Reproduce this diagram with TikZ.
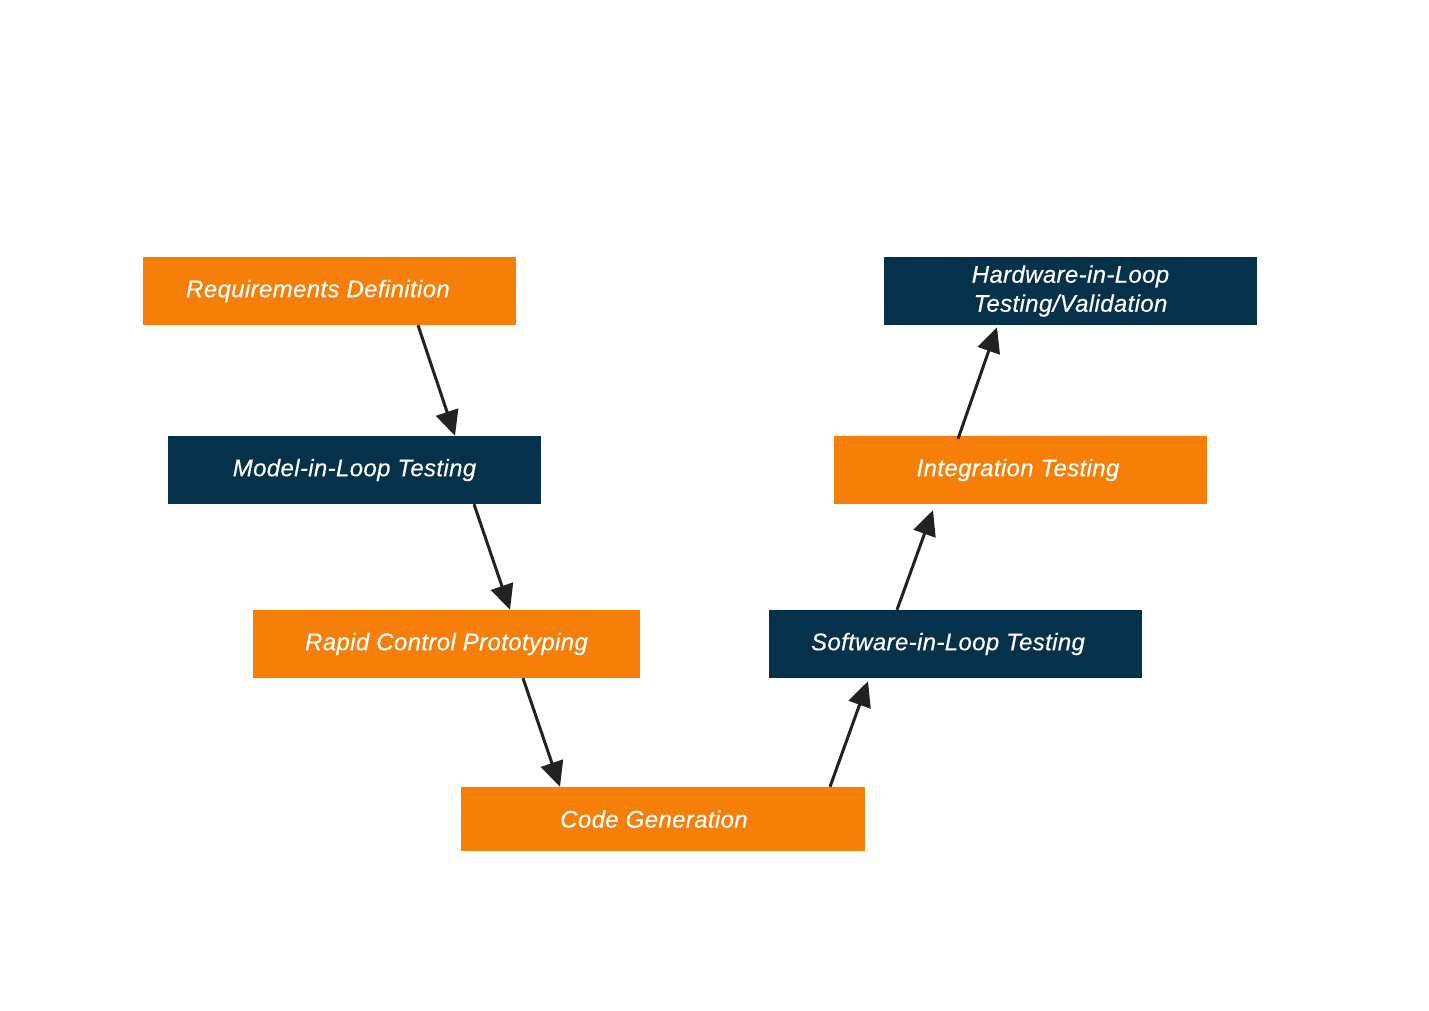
\documentclass[tikz,border=0pt]{standalone}
\usepackage{fontspec}
\setmainfont{Liberation Sans}[LetterSpace=1.5,FakeBold=0.4]
\usetikzlibrary{arrows.meta}
\definecolor{vorange}{RGB}{245,127,8}
\definecolor{vnavy}{RGB}{5,49,74}
\definecolor{vline}{RGB}{34,34,34}
\begin{document}
\begin{tikzpicture}[x=1pt,y=-1pt,
  box/.style={minimum width=373pt,minimum height=68pt,inner sep=0pt,text=white,
    font=\fontsize{24}{29}\selectfont\itshape,align=center},
  obox/.style={box,fill=vorange},
  nbox/.style={box,fill=vnavy},
  flow/.style={draw=vline,line width=3pt,-{Triangle[length=25pt,width=23pt]}}]
\useasboundingbox (0,0) rectangle (1429,1010);
\fill[white] (0,0) rectangle (1429,1010);
\node[obox] (req) at (329.5,291) {\hspace*{-23pt}Requirements Definition};
\node[nbox] (mil) at (354.5,470) {Model-in-Loop Testing};
\node[obox,minimum width=387pt] (rcp) at (446.5,644) {Rapid Control Prototyping};
\node[obox,minimum width=404pt,minimum height=64pt] (cg) at (663,819) {\hspace*{-18pt}Code Generation};
\node[nbox] (sil) at (955.5,644) {\hspace*{-15pt}Software-in-Loop Testing};
\node[obox] (it) at (1020.5,470) {\hspace*{-5pt}Integration Testing};
\node[nbox] (hil) at (1070.5,291) {Hardware-in-Loop\\Testing/Validation};
\draw[flow] ([xshift=88.5pt]req.south) -- ([xshift=100.5pt]mil.north);
\draw[flow] ([xshift=119.5pt]mil.south) -- ([xshift=63.5pt]rcp.north);
\draw[flow] ([xshift=76.5pt]rcp.south) -- ([xshift=-103pt]cg.north);
\draw[flow] ([xshift=167pt]cg.north) -- ([xshift=-87.5pt,yshift=-3pt]sil.south);
\draw[flow] ([xshift=-58.5pt]sil.north) -- ([xshift=-87.5pt,yshift=-6pt]it.south);
\draw[flow] ([xshift=-62.5pt,yshift=-3pt]it.north) -- ([xshift=-73.5pt,yshift=-2pt]hil.south);
\end{tikzpicture}
\end{document}
